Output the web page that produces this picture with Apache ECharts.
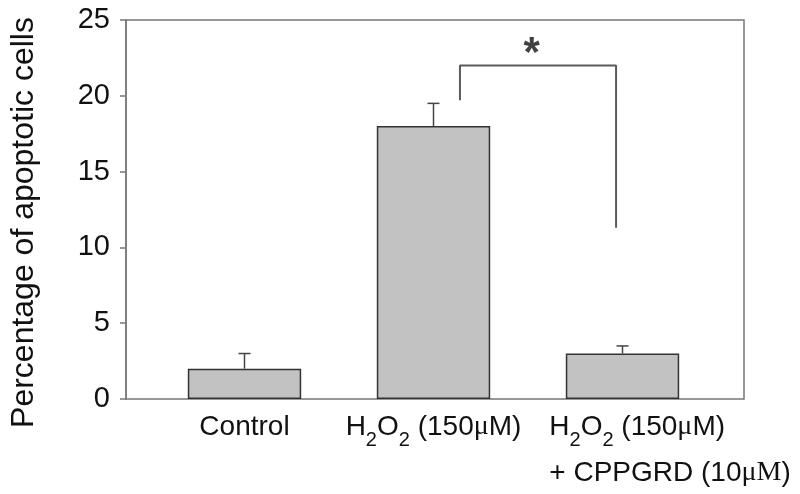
<!DOCTYPE html>
<html>
<head>
<meta charset="utf-8">
<script src="https://cdn.jsdelivr.net/npm/echarts@6/dist/echarts.min.js"></script>
<style>
  html, body { margin: 0; padding: 0; background: #fff; }
  #chart { width: 800px; height: 494px; }
</style>
</head>
<body>
<div id="chart"></div>
<script>
// data
const groups = ['Control', 'H2O2', 'H2O2 + CPPGRD']
const means = [2, 18, 3]
const errors = [1, 1.5, 0.5]
const yTicks = [0, 5, 10, 15, 20, 25]
// significance bracket between H2O2 and H2O2 + CPPGRD (x in category units)
const bracket = [[1.14, 19.7], [1.14, 22], [1.966, 22], [1.966, 11.3]]
const star = [[1.52, 22.7]]

const FONT = 'Liberation Sans'
const SERIF = 'Liberation Serif'

const rich = {
  n: { fontFamily: FONT, fontSize: 28, lineHeight: 46, color: '#111', align: 'left' },
  s: { fontFamily: FONT, fontSize: 20, lineHeight: 30, verticalAlign: 'bottom', color: '#111', align: 'left' },
  u: { fontFamily: SERIF, fontSize: 28, lineHeight: 46, color: '#111', align: 'left' }
}
const h2o2 = '{n|H}{s|2}{n|O}{s|2}{n| (150}{u|μ}{n|M)}'
const labels = [
  '{n|Control}',
  h2o2,
  h2o2 + '\n{n|+ CPPGRD (10}{u|μM}{n|)}'
]

const chart = echarts.init(document.getElementById('chart'), null, { renderer: 'canvas' })

const errData = means.map((m, i) => [i, m, m + errors[i]])

chart.setOption({
  backgroundColor: '#fff',
  animation: false,
  grid: [
    // frame
    { left: 120, right: 56, top: 20, bottom: 95, show: true, borderColor: '#777', borderWidth: 1.5, backgroundColor: 'transparent' },
    // bars
    { left: 150, right: 83, top: 20, bottom: 95 }
  ],
  xAxis: [
    { gridIndex: 0, type: 'value', show: false, min: 0, max: 1 },
    {
      gridIndex: 1,
      type: 'category',
      data: groups.map((g, i) => i === 2 ? { value: g, textStyle: { padding: [0, 0, 0, 95] } } : g),
      axisLine: { show: false },
      axisTick: { show: false },
      axisLabel: {
        interval: 0,
        hideOverlap: false,
        margin: 5,
        rich: rich,
        formatter: (v, i) => labels[i]
      }
    },
    { gridIndex: 1, type: 'value', show: false, min: -0.5, max: 2.5 }
  ],
  yAxis: [
    {
      gridIndex: 0,
      type: 'value',
      min: yTicks[0],
      max: yTicks[yTicks.length - 1],
      interval: 5,
      name: 'Percentage of apoptotic cells',
      nameLocation: 'middle',
      nameGap: 86,
      nameTextStyle: { fontFamily: FONT, fontSize: 32, color: '#111', padding: [0, 26, 0, 0] },
      axisLine: { show: true, lineStyle: { color: '#777', width: 1.5 } },
      axisTick: { show: true, inside: false, length: 6, lineStyle: { color: '#777', width: 1.5 } },
      axisLabel: { fontFamily: FONT, fontSize: 29, color: '#111', margin: 16 },
      splitLine: { show: false }
    },
    { gridIndex: 1, type: 'value', show: false, min: 0, max: 25 }
  ],
  series: [
    {
      type: 'bar',
      xAxisIndex: 1,
      yAxisIndex: 1,
      data: means,
      barWidth: '60%',
      itemStyle: { color: '#c2c2c2', borderColor: '#333', borderWidth: 1.5 }
    },
    {
      type: 'custom',
      xAxisIndex: 1,
      yAxisIndex: 1,
      data: errData,
      renderItem(params, api) {
        const base = api.coord([api.value(0), api.value(1)])
        const top = api.coord([api.value(0), api.value(2)])
        const style = { stroke: '#444', lineWidth: 1.5 }
        return {
          type: 'group',
          children: [
            { type: 'line', shape: { x1: base[0], y1: base[1], x2: top[0], y2: top[1] }, style },
            { type: 'line', shape: { x1: top[0] - 6, y1: top[1], x2: top[0] + 6, y2: top[1] }, style }
          ]
        }
      }
    },
    {
      type: 'line',
      xAxisIndex: 2,
      yAxisIndex: 1,
      data: bracket,
      symbol: 'none',
      lineStyle: { color: '#5a5a5a', width: 2 }
    },
    {
      type: 'scatter',
      xAxisIndex: 2,
      yAxisIndex: 1,
      data: star,
      symbol: 'circle',
      symbolSize: 2,
      itemStyle: { color: 'rgba(0,0,0,0)' },
      label: {
        show: true,
        position: 'inside',
        formatter: '*',
        fontFamily: FONT,
        fontWeight: 'bold',
        fontSize: 42,
        color: '#111'
      }
    }
  ]
})
</script>
</body>
</html>
